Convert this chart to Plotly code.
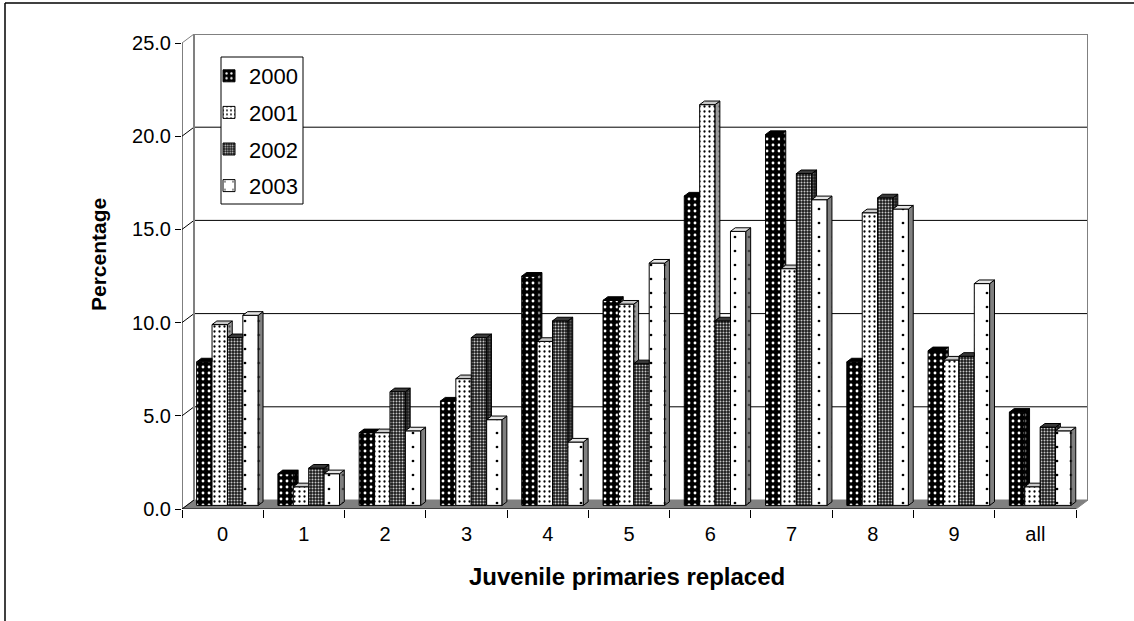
import plotly.graph_objects as go

# ---- data -------------------------------------------------------------
categories = ["0", "1", "2", "3", "4", "5", "6", "7", "8", "9", "all"]
years = ["2000", "2001", "2002", "2003"]
pct_2000 = [7.7, 1.7, 3.9, 5.6, 12.3, 11.0, 16.6, 19.9, 7.7, 8.3, 5.0]
pct_2001 = [9.7, 1.0, 3.9, 6.8, 8.8, 10.8, 21.5, 12.7, 15.7, 7.8, 1.0]
pct_2002 = [9.0, 2.0, 6.1, 9.0, 9.9, 7.6, 9.9, 17.8, 16.5, 8.0, 4.2]
pct_2003 = [10.2, 1.7, 4.0, 4.6, 3.4, 13.0, 14.7, 16.4, 15.9, 11.9, 4.0]
y_ticks = [0, 5, 10, 15, 20, 25]
y_tick_text = ["0.0", "5.0", "10.0", "15.0", "20.0", "25.0"]

series = [pct_2000, pct_2001, pct_2002, pct_2003]

# ---- geometry of the pseudo-3D box (pixels) ---------------------------
W, H = 1134, 621
FRONT_L, FRONT_R = 182, 1076      # front x-axis ends
FRONT_B, FRONT_T = 509, 43        # front y-axis: value 0 / value 25
DEPTH_PX = (12, 9)                # front -> back wall offset
Y_MAX = 25

px_per_x = (FRONT_R - FRONT_L) / len(categories)
px_per_y = (FRONT_B - FRONT_T) / Y_MAX
DX = DEPTH_PX[0] / px_per_x
DY = DEPTH_PX[1] / px_per_y

ML, MT = FRONT_L, FRONT_T - DEPTH_PX[1]
MR = W - (FRONT_R + DEPTH_PX[0])
MB = H - FRONT_B
PW = W - ML - MR
PH = H - MT - MB

X0 = -0.5
X1 = len(categories) - 0.5

# bars sit at 40% depth and are themselves 40% of the depth deep
BX, BY = 0.4 * DX, 0.4 * DY
BDX, BDY = 0.4 * DX, 0.4 * DY
STRIDE = 15.4 / px_per_x


def paper_x(px):
    return (px - ML) / PW


def paper_y(py):
    return (MT + PH - py) / PH


styles = [
    dict(bg="#000000", fg="#ffffff", size=6, sol=0.18,
         side="#000000", side_fg="#ffffff", top="#000000"),
    dict(bg="#ffffff", fg="#000000", size=5, sol=0.16,
         side="#9a9a9a", side_fg="#000000", top="#c8c8c8"),
    dict(bg="#1a1a1a", fg="#c8c8c8", size=3, sol=0.35,
         side="#1a1a1a", side_fg="#9a9a9a", top="#3a3a3a"),
    dict(bg="#ffffff", fg="#000000", size=14, sol=0.03,
         side="#808080", side_fg="#000000", top="#e6e6e6"),
]

fig = go.Figure()

# front faces
for j, (yr, vals) in enumerate(zip(years, series)):
    st = styles[j]
    xs = [i + BX + (j - 1.5) * STRIDE for i in range(len(categories))]
    fig.add_trace(go.Bar(
        x=xs, y=vals, base=BY, width=STRIDE, name=yr,
        legendgroup=yr,
        marker=dict(
            color=st["bg"],
            line=dict(color="#000000", width=1),
            pattern=dict(shape=".", bgcolor=st["bg"], fgcolor=st["fg"],
                         size=st["size"], solidity=st["sol"],
                         fillmode="replace"),
        ),
        hoverinfo="skip",
    ))

# side and top faces, clipped where the neighbouring bar hides them
for j, vals in enumerate(series):
    st = styles[j]
    sx, sy, tx, ty = [], [], [], []
    for i, v in enumerate(vals):
        left = i + BX + (j - 2) * STRIDE
        right = left + STRIDE
        top = BY + v
        nxt = BY + series[j + 1][i] if j < len(series) - 1 else None
        lo = BY if nxt is None else max(BY, nxt)
        if lo < top:
            sx += [right, right + BDX, right + BDX, right, right, None]
            sy += [lo, lo + BDY, top + BDY, top, lo, None]
        if nxt is not None and nxt > top:
            tx += [left, right, right, left + BDX, left, None]
            ty += [top, top, top + BDY, top + BDY, top, None]
        else:
            tx += [left, right, right + BDX, left + BDX, left, None]
            ty += [top, top, top + BDY, top + BDY, top, None]
    fig.add_trace(go.Scatter(
        x=sx, y=sy, mode="lines", fill="toself", fillcolor=st["side"],
        fillpattern=dict(shape=".", bgcolor=st["side"], fgcolor=st["side_fg"],
                         size=st["size"], solidity=st["sol"]),
        line=dict(color="#000000", width=1), showlegend=False,
        hoverinfo="skip",
    ))
    fig.add_trace(go.Scatter(
        x=tx, y=ty, mode="lines", fill="toself", fillcolor=st["top"],
        line=dict(color="#000000", width=1), showlegend=False,
        hoverinfo="skip",
    ))

shapes = []
GRAY = "#808080"
# floor
shapes.append(dict(type="path", layer="below", xref="x", yref="y",
                   path=f"M{X0},0 L{X1},0 L{X1 + DX},{DY} L{X0 + DX},{DY} Z",
                   fillcolor=GRAY, line=dict(color=GRAY, width=1)))
# back-wall gridlines and side-wall diagonals
for v in y_ticks:
    if 0 < v < Y_MAX:
        shapes.append(dict(type="line", layer="below", xref="x", yref="y",
                           x0=X0 + DX, x1=X1 + DX, y0=v + DY, y1=v + DY,
                           line=dict(color="#000000", width=1)))
    shapes.append(dict(type="line", layer="below", xref="x", yref="y",
                       x0=X0, x1=X0 + DX, y0=v, y1=v + DY,
                       line=dict(color=GRAY if v == Y_MAX else "#000000",
                                 width=1)))
# back-wall frame
shapes.append(dict(type="path", layer="below", xref="x", yref="y",
                   path=(f"M{X0 + DX},{DY} L{X0 + DX},{Y_MAX + DY} "
                         f"L{X1 + DX},{Y_MAX + DY} L{X1 + DX},{DY}"),
                   line=dict(color=GRAY, width=2)))
# front axes
shapes.append(dict(type="line", layer="above", xref="x", yref="y",
                   x0=X0, x1=X1, y0=0, y1=0,
                   line=dict(color="#000000", width=1)))
shapes.append(dict(type="line", layer="above", xref="x", yref="y",
                   x0=X0, x1=X0, y0=0, y1=Y_MAX,
                   line=dict(color="#000000", width=1)))
# legend frame
shapes.append(dict(type="rect", layer="above", xref="paper", yref="paper",
                   x0=paper_x(221), x1=paper_x(303),
                   y0=paper_y(204), y1=paper_y(57),
                   fillcolor="#ffffff", line=dict(color="#000000", width=1)))
# outer chart border
shapes.append(dict(type="line", xref="paper", yref="paper",
                   x0=paper_x(5), x1=paper_x(5),
                   y0=paper_y(H + 5), y1=paper_y(3),
                   line=dict(color="#000000", width=1.5)))
shapes.append(dict(type="line", xref="paper", yref="paper",
                   x0=paper_x(5), x1=paper_x(W + 5),
                   y0=paper_y(3), y1=paper_y(3),
                   line=dict(color="#000000", width=1.5)))

FONT = "Liberation Sans, Arial, sans-serif"

fig.update_layout(
    width=W, height=H,
    margin=dict(l=ML, r=MR, t=MT, b=MB, pad=0),
    paper_bgcolor="#ffffff", plot_bgcolor="#ffffff",
    barmode="overlay",
    font=dict(family=FONT, size=20, color="#000000"),
    showlegend=True,
    legend=dict(
        x=paper_x(209), y=paper_y(55), xanchor="left", yanchor="top",
        bgcolor="rgba(0,0,0,0)", borderwidth=0,
        font=dict(family=FONT, size=22, color="#000000"),
        traceorder="grouped", tracegroupgap=5,
    ),
    xaxis=dict(
        range=[X0, X1 + DX], tickvals=list(range(len(categories))),
        ticktext=categories, ticks="", showgrid=False, zeroline=False,
        showline=False, tickfont=dict(size=20), ticklabelstandoff=11,
        minor=dict(tickvals=[k - 0.5 for k in range(len(categories) + 1)],
                   ticks="outside", ticklen=8, tickcolor="#000000",
                   tickwidth=1, showgrid=False),
        fixedrange=True,
    ),
    yaxis=dict(
        range=[0, Y_MAX + DY], tickvals=y_ticks, ticktext=y_tick_text,
        ticks="outside", ticklen=6, tickcolor="#000000", showgrid=False,
        zeroline=False, showline=False, tickfont=dict(size=20),
        fixedrange=True,
    ),
    shapes=shapes,
    annotations=[
        dict(text="<b>Juvenile primaries replaced</b>", xref="paper",
             yref="paper", x=paper_x(627), y=paper_y(576),
             showarrow=False, font=dict(family=FONT, size=24),
             xanchor="center", yanchor="middle"),
        dict(text="<b>Percentage</b>", xref="paper", yref="paper",
             x=paper_x(98), y=paper_y(255), textangle=-90,
             showarrow=False, font=dict(family=FONT, size=21),
             xanchor="center", yanchor="middle"),
    ],
)

fig.write_html("out.html")
